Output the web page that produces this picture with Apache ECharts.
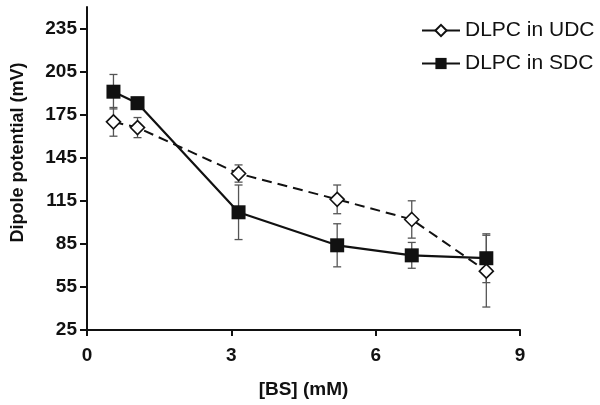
<!DOCTYPE html>
<html>
<head>
<meta charset="utf-8">
<script src="https://cdn.jsdelivr.net/npm/echarts@6/dist/echarts.min.js"></script>
<style>html,body{margin:0;padding:0;background:#fff}#c{width:600px;height:405px}</style>
</head>
<body>
<div id="c"></div>
<script>
// Data
var concBS = [0.55, 1.05, 3.15, 5.2, 6.75, 8.3];
var udcValues = [170, 166, 134, 116, 102, 66];
var udcErrors = [10, 7, 6, 10, 13, 25];
var sdcValues = [191, 183, 107, 84, 77, 75];
var sdcErrors = [12, 4, 19, 15, 9, 17];
var yTicks = [25, 55, 85, 115, 145, 175, 205, 235];
var xTicks = [0, 3, 6, 9];
var seriesNames = ['DLPC in UDC', 'DLPC in SDC'];

function pairs(xs, ys) { return xs.map(function (x, i) { return [x, ys[i]]; }); }
function errData(xs, ys, es) { return xs.map(function (x, i) { return [x, ys[i] - es[i], ys[i] + es[i]]; }); }

function renderErr(params, api) {
  var lo = api.coord([api.value(0), api.value(1)]);
  var hi = api.coord([api.value(0), api.value(2)]);
  var w = 4;
  var st = { stroke: '#555', lineWidth: 1.3 };
  return {
    type: 'group',
    children: [
      { type: 'line', shape: { x1: lo[0], y1: lo[1], x2: hi[0], y2: hi[1] }, style: st },
      { type: 'line', shape: { x1: lo[0] - w, y1: lo[1], x2: lo[0] + w, y2: lo[1] }, style: st },
      { type: 'line', shape: { x1: hi[0] - w, y1: hi[1], x2: hi[0] + w, y2: hi[1] }, style: st }
    ]
  };
}

var chart = echarts.init(document.getElementById('c'), null, { renderer: 'canvas' });
var font = '"Liberation Sans", Arial, Helvetica, sans-serif';
chart.setOption({
  animation: false,
  backgroundColor: '#fff',
  grid: { left: 87, right: 80, top: 7, bottom: 75, containLabel: false },
  legend: {
    orient: 'vertical', left: 421, top: 20, padding: 0, itemGap: 12,
    itemWidth: 38, itemHeight: 14,
    data: seriesNames,
    lineStyle: { type: 'solid', width: 2 },
    textStyle: { fontFamily: font, fontSize: 21, color: '#111' }
  },
  xAxis: {
    type: 'value', min: 0, max: 9, interval: 3,
    name: '[BS] (mM)', nameLocation: 'middle', nameGap: 50,
    nameTextStyle: { fontFamily: font, fontSize: 19, fontWeight: 'bold', color: '#111' },
    axisLine: { lineStyle: { color: '#111', width: 2 } },
    axisTick: { show: true, length: 6, lineStyle: { color: '#111', width: 2 }, customValues: xTicks },
    axisLabel: { margin: 16, fontFamily: font, fontSize: 19, fontWeight: 'bold', color: '#111', customValues: xTicks },
    splitLine: { show: false }
  },
  yAxis: {
    type: 'value', min: 25, max: 250,
    name: 'Dipole potential (mV)', nameLocation: 'middle', nameGap: 60,
    nameTextStyle: { fontFamily: font, fontSize: 18, fontWeight: 'bold', color: '#111', padding: [0, 0, 0, 32] },
    axisLine: { show: true, lineStyle: { color: '#111', width: 2 } },
    axisTick: { show: true, length: 7, lineStyle: { color: '#111', width: 2 }, customValues: yTicks },
    axisLabel: { margin: 10, fontFamily: font, fontSize: 19, fontWeight: 'bold', color: '#111', customValues: yTicks },
    splitLine: { show: false }
  },
  series: [
    {
      type: 'custom', name: 'udcErr', renderItem: renderErr, z: 1,
      data: errData(concBS, udcValues, udcErrors), silent: true
    },
    {
      type: 'custom', name: 'sdcErr', renderItem: renderErr, z: 1,
      data: errData(concBS, sdcValues, sdcErrors), silent: true
    },
    {
      type: 'line', name: seriesNames[0], z: 3,
      data: pairs(concBS, udcValues),
      symbol: 'diamond', symbolSize: 14,
      lineStyle: { color: '#111', width: 2, type: [10, 6] },
      itemStyle: { color: '#fff', borderColor: '#111', borderWidth: 1.6 }
    },
    {
      type: 'line', name: seriesNames[1], z: 4,
      data: pairs(concBS, sdcValues),
      symbol: 'rect', symbolSize: 14,
      lineStyle: { color: '#111', width: 2.2, type: 'solid' },
      itemStyle: { color: '#111', borderColor: '#111', borderWidth: 0 }
    }
  ]
});
</script>
</body>
</html>
